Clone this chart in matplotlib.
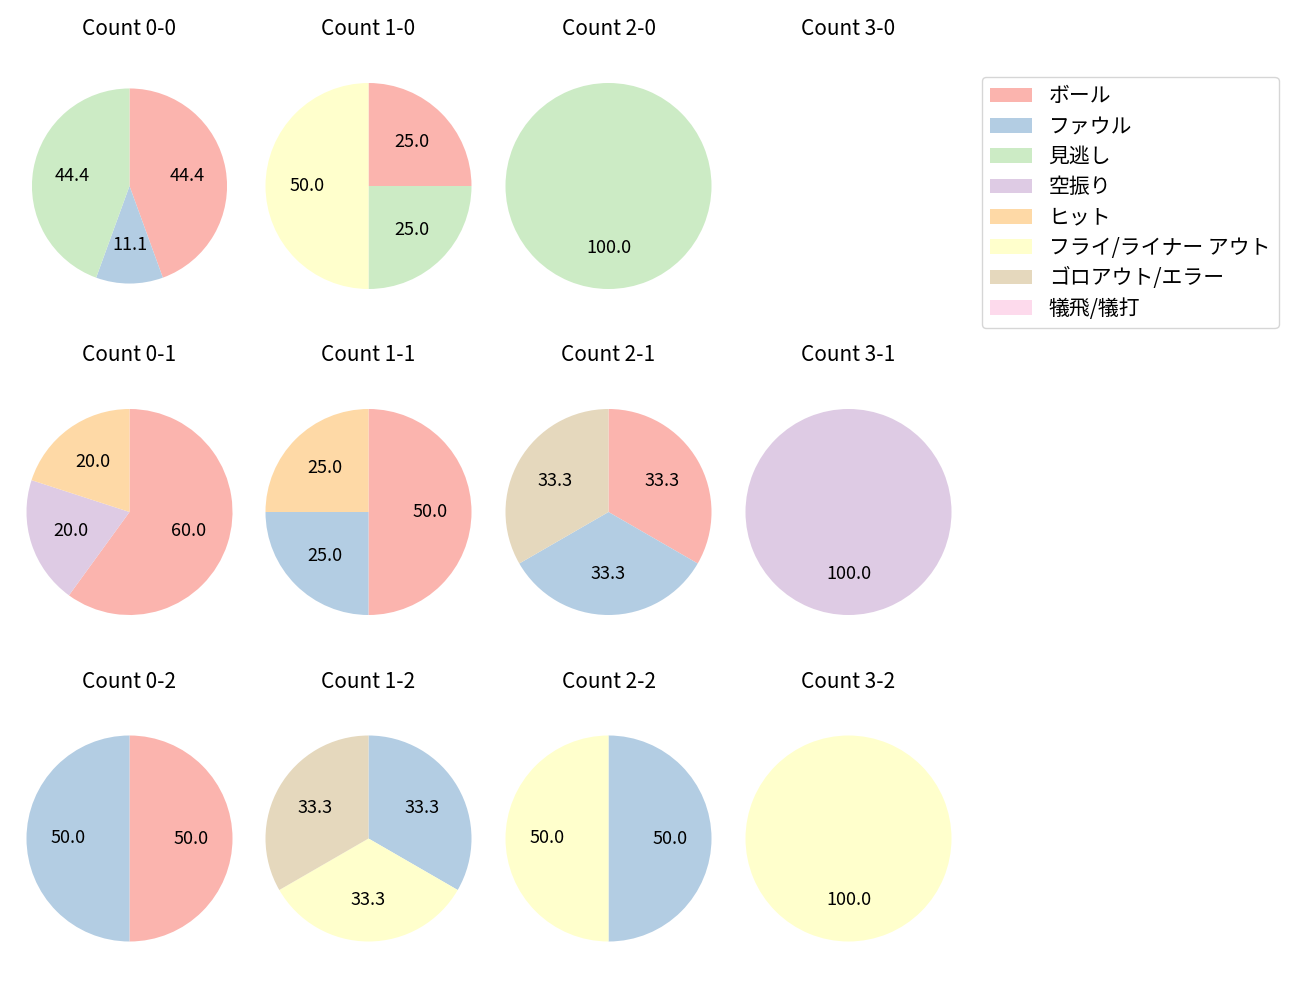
import matplotlib
matplotlib.use("Agg")
import matplotlib.pyplot as plt
from matplotlib.patches import Patch

plt.rcParams['font.family'] = ['Noto Sans CJK JP', 'DejaVu Sans']

categories = ['ボール', 'ファウル', '見逃し', '空振り', 'ヒット',
              'フライ/ライナー アウト', 'ゴロアウト/エラー', '犠飛/犠打']

# counts per ball-strike situation, in category order
count_0_0 = [4, 1, 4, 0, 0, 0, 0, 0]
count_1_0 = [1, 0, 1, 0, 0, 2, 0, 0]
count_2_0 = [0, 0, 1, 0, 0, 0, 0, 0]
count_3_0 = [0, 0, 0, 0, 0, 0, 0, 0]
count_0_1 = [3, 0, 0, 1, 1, 0, 0, 0]
count_1_1 = [2, 1, 0, 0, 1, 0, 0, 0]
count_2_1 = [1, 1, 0, 0, 0, 0, 1, 0]
count_3_1 = [0, 0, 0, 1, 0, 0, 0, 0]
count_0_2 = [1, 1, 0, 0, 0, 0, 0, 0]
count_1_2 = [0, 1, 0, 0, 0, 1, 1, 0]
count_2_2 = [0, 1, 0, 0, 0, 1, 0, 0]
count_3_2 = [0, 0, 0, 0, 0, 1, 0, 0]

grid = [
    [('0-0', count_0_0), ('1-0', count_1_0), ('2-0', count_2_0), ('3-0', count_3_0)],
    [('0-1', count_0_1), ('1-1', count_1_1), ('2-1', count_2_1), ('3-1', count_3_1)],
    [('0-2', count_0_2), ('1-2', count_1_2), ('2-2', count_2_2), ('3-2', count_3_2)],
]

colors = plt.get_cmap('Pastel1').colors[:len(categories)]

W, H = 1300, 1000
fig = plt.figure(figsize=(13, 10), dpi=100)

col_x = [129.5, 368.5, 608.5, 848.5]
row_y = [186, 512, 838.5]
box = 257.5

for r, row in enumerate(grid):
    for c, (name, vals) in enumerate(row):
        cx, cy = col_x[c], row_y[r]
        ax = fig.add_axes([(cx - box / 2) / W, 1 - (cy + box / 2) / H, box / W, box / H])
        ax.set_title('Count ' + name, fontsize=15, pad=16)
        idx = [i for i, v in enumerate(vals) if v > 0]
        if not idx:
            ax.axis('off')
            continue
        rad = 0.947 if name == '0-0' else 1.0
        wedges, texts, autotexts = ax.pie([vals[i] for i in idx],
                                          colors=[colors[i] for i in idx],
                                          startangle=90, counterclock=False,
                                          autopct='%.1f', radius=rad,
                                          textprops={'fontsize': 13})

handles = [Patch(facecolor=colors[i], label=categories[i]) for i in range(len(categories))]
fig.legend(handles=handles, loc='upper left', bbox_to_anchor=(982 / W, 1 - 77 / H),
           borderaxespad=0, fontsize=15, labelspacing=0.4)

plt.savefig('out.png')
